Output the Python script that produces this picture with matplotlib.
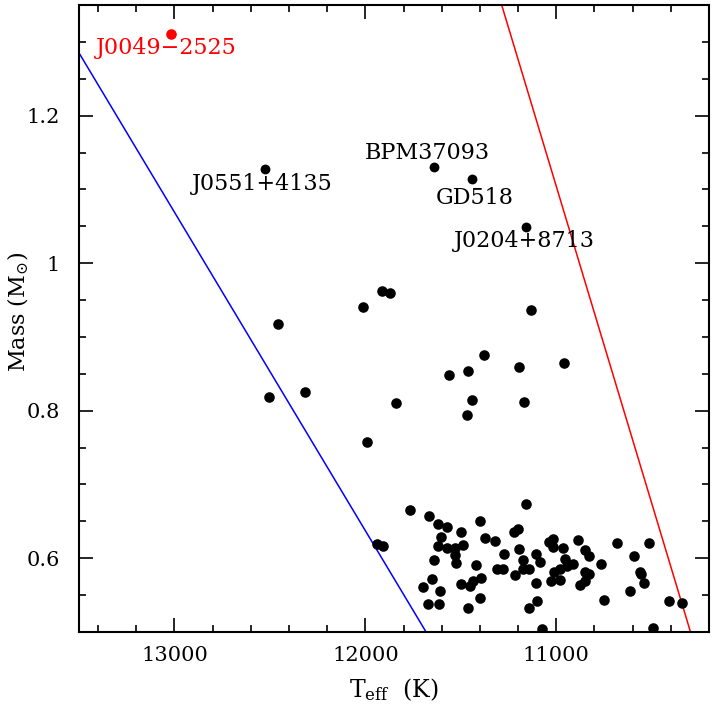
import matplotlib
matplotlib.use("Agg")
import matplotlib.pyplot as plt
from matplotlib.ticker import MultipleLocator

plt.rcParams['font.family'] = ['DejaVu Serif']
plt.rcParams['mathtext.fontset'] = 'dejavuserif'

# Unlabelled white dwarfs (Teff [K], Mass [Msun])
teff = [12460, 12010, 11915, 11870, 11130, 11380, 11460, 11560, 11196, 10962,
        12503, 12314, 11837, 11441, 11470, 11170, 11991,
        11765, 11665, 11619, 11571, 11500, 11604, 11401, 11156, 11375, 11322,
        11220, 11203, 11621, 11571, 11529, 11491, 11531, 11524, 11640, 11274,
        11194, 11173, 11105, 11083, 11423, 11312, 11279, 11173, 11145, 11215,
        11394, 11437, 11454, 11501, 11652, 11699, 11610, 11670, 11612, 11461,
        11401, 11107, 11102, 11145, 11076, 11040, 11017, 11019, 10963, 10953,
        10915, 10946, 10979, 11014, 11030, 10979, 10887, 10852, 10829, 10850,
        10831, 10849, 10875, 10767, 10751, 10683, 10595, 10563, 10555, 10543,
        10616, 10515, 10407, 10343, 10494, 11937, 11906]
mass = [0.917, 0.941, 0.962, 0.959, 0.936, 0.875, 0.854, 0.848, 0.859, 0.864,
        0.819, 0.825, 0.810, 0.815, 0.794, 0.812, 0.758,
        0.665, 0.657, 0.646, 0.642, 0.635, 0.629, 0.650, 0.673, 0.628, 0.623,
        0.636, 0.640, 0.617, 0.614, 0.614, 0.618, 0.604, 0.593, 0.598, 0.606,
        0.612, 0.598, 0.606, 0.595, 0.591, 0.586, 0.586, 0.586, 0.586, 0.577,
        0.573, 0.569, 0.563, 0.565, 0.572, 0.561, 0.555, 0.538, 0.538, 0.532,
        0.546, 0.566, 0.542, 0.532, 0.504, 0.622, 0.626, 0.615, 0.614, 0.599,
        0.592, 0.590, 0.585, 0.581, 0.569, 0.571, 0.625, 0.611, 0.603, 0.581,
        0.578, 0.569, 0.564, 0.592, 0.544, 0.620, 0.603, 0.582, 0.578, 0.566,
        0.556, 0.620, 0.542, 0.539, 0.506, 0.619, 0.616]

# Named objects
named = ["J0551+4135", "BPM37093", "GD518", "J0204+8713"]
named_teff = [12526, 11640, 11442, 11156]
named_mass = [1.127, 1.130, 1.114, 1.049]
named_label_teff = [12540, 11674, 11428, 11167]
named_label_mass = [1.107, 1.150, 1.088, 1.030]

special_name = "J0049\u22122525"
special_teff = 13020
special_mass = 1.311
special_label_teff = 13042
special_label_mass = 1.292

# Boundary lines (Teff, Mass endpoints)
blue_teff = [13500, 11682]
blue_mass = [1.285, 0.50]
red_teff = [11286, 10297]
red_mass = [1.35, 0.50]

fig = plt.figure(figsize=(7.13, 7.09), dpi=100)
ax = fig.add_axes([0.1108, 0.1086, 0.8836, 0.8844])

ax.plot(blue_teff, blue_mass, color='blue', lw=1.1)
ax.plot(red_teff, red_mass, color='red', lw=1.1)

ax.scatter(teff, mass, s=58, color='black', zorder=3, linewidths=0)
ax.scatter(named_teff, named_mass, s=50, color='black', zorder=3, linewidths=0)
ax.scatter([special_teff], [special_mass], s=58, color='red', zorder=3, linewidths=0)

fs = 16
for name, lt, lm in zip(named, named_label_teff, named_label_mass):
    ax.text(lt, lm, name, fontsize=fs, ha='center', va='center')
ax.text(special_label_teff, special_label_mass, special_name, fontsize=fs,
        ha='center', va='center', color='red')

ax.set_xlim(13500, 10200)
ax.set_ylim(0.5, 1.35)
ax.xaxis.set_major_locator(MultipleLocator(1000))
ax.xaxis.set_minor_locator(MultipleLocator(200))
ax.yaxis.set_minor_locator(MultipleLocator(0.05))
ax.set_yticks([0.6, 0.8, 1.0, 1.2])
ax.set_yticklabels(['0.6', '0.8', '1', '1.2'])

ax.tick_params(which='both', direction='in', top=True, right=True, width=1.2,
               labelsize=15)
ax.tick_params(axis='x', pad=10)
ax.tick_params(axis='y', pad=14)
ax.tick_params(which='major', length=10)
ax.tick_params(which='minor', length=5)
for sp in ax.spines.values():
    sp.set_linewidth(1.5)

ax.set_xlabel(r'T$_{\rm eff}$  (K)', fontsize=17, labelpad=8)
ax.set_ylabel(r'Mass (M$_{\odot}$)', fontsize=16)
ax.yaxis.set_label_coords(-0.076, 0.51)

fig.savefig('out.png', dpi=100)
